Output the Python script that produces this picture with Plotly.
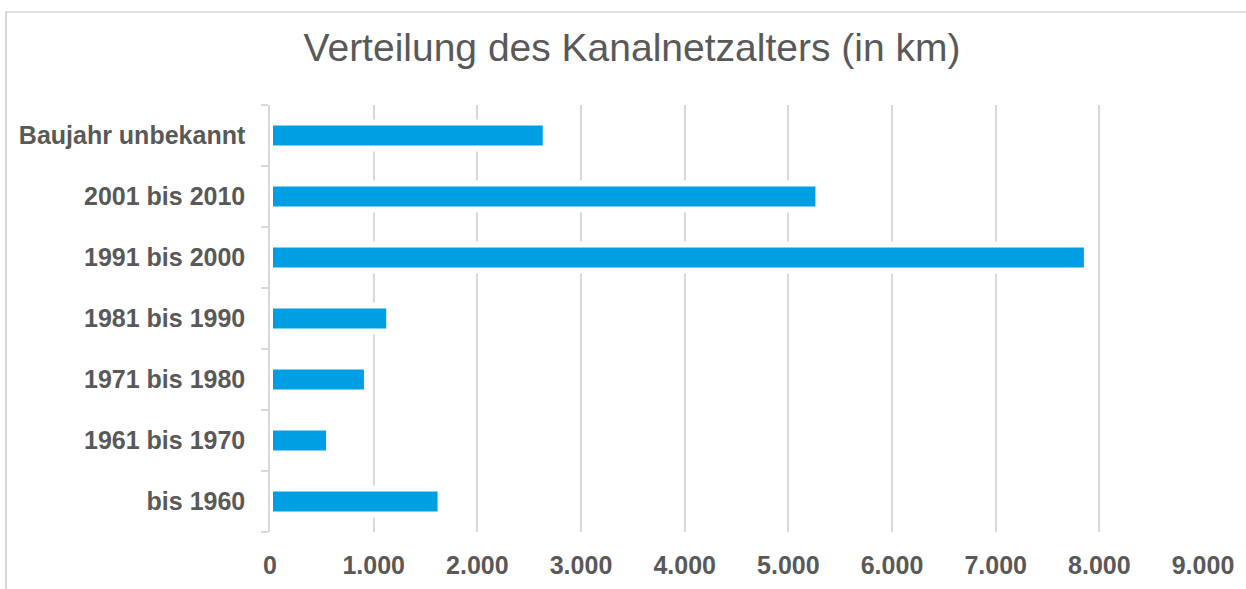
import plotly.graph_objects as go

# Data (bottom to top as shown)
categories = ["bis 1960", "1961 bis 1970", "1971 bis 1980", "1981 bis 1990",
              "1991 bis 2000", "2001 bis 2010", "Baujahr unbekannt"]
lengths_km = [1645, 570, 935, 1150, 7880, 5290, 2660]
x_ticks = [0, 1000, 2000, 3000, 4000, 5000, 6000, 7000, 8000, 9000]

BAR = "#009FE3"
TXT = "#595959"
GRID = "#D9D9D9"
FONT = "Liberation Sans, Arial, sans-serif"

fig = go.Figure(go.Bar(
    x=lengths_km, y=categories, orientation="h",
    marker=dict(color=BAR, line=dict(color="white", width=6)),
    width=0.43,
    hoverinfo="skip",
))

W, H = 1246, 589
L, R, T, B = 270, 43, 105, 57
pw, ph = W - L - R, H - T - B

fig.update_layout(
    width=W, height=H,
    margin=dict(l=L, r=R, t=T, b=B, pad=0, autoexpand=False),
    paper_bgcolor="white", plot_bgcolor="white",
    separators=",.",
    showlegend=False,
    title=dict(text="Verteilung des Kanalnetzalters (in km)",
               x=632 / W, xanchor="center", xref="container",
               y=1 - 47 / H, yanchor="middle",
               font=dict(family=FONT, size=39, color=TXT)),
    font=dict(family=FONT, color=TXT),
    shapes=[dict(type="rect", xref="paper", yref="paper",
                 x0=(6 - L) / pw, x1=(1260 - L) / pw,
                 y0=-(600 - (T + ph)) / ph, y1=(T + ph - 12) / ph,
                 line=dict(color="#BFBFBF", width=1.2), layer="below")],
)

fig.update_xaxes(
    range=[0, 9000], tickvals=x_ticks, tickformat=",d",
    showgrid=True, gridcolor=GRID, gridwidth=1.5,
    zeroline=False, showline=False, ticks="",
    tickfont=dict(family=FONT, size=25, color=TXT, weight="bold"),
    ticklabelstandoff=16,
)
fig.update_yaxes(
    type="category", categoryorder="array", categoryarray=categories,
    showline=True, linecolor=GRID, linewidth=1.5,
    ticks="outside", tickson="boundaries", ticklen=7, tickcolor=GRID, tickwidth=1.5,
    showgrid=False,
    tickfont=dict(family=FONT, size=25, color=TXT, weight="bold"),
    ticklabelstandoff=18,
)

fig.write_html(
    "out.html",
    config={"displayModeBar": False},
    post_script="document.body.style.margin='0';document.body.style.overflow='hidden';",
)
